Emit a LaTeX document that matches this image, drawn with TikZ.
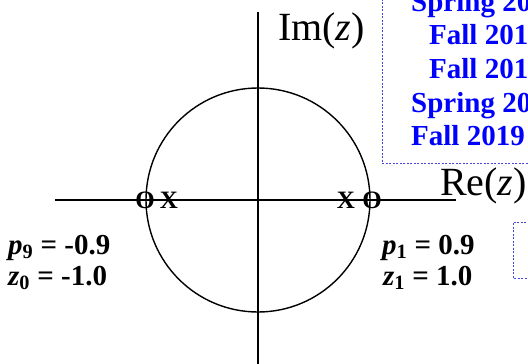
\documentclass[tikz,border=0pt]{standalone}
\usepackage{fontspec}
\setmainfont{Liberation Serif}
\definecolor{slideblue}{RGB}{0,0,255}
\definecolor{boxblue}{RGB}{70,70,225}
\tikzset{
  axisline/.style={line width=1.6pt, black},
  unitcircle/.style={line width=1.4pt, black},
  marker/.style={inner sep=0pt, font=\fontsize{25}{30}\selectfont\bfseries},
  axislabel/.style={inner sep=0pt, anchor=base west, font=\fontsize{40}{48}\selectfont},
  rootlabel/.style={inner sep=0pt, anchor=base west, font=\fontsize{29}{34}\selectfont\bfseries},
  termlabel/.style={inner sep=0pt, anchor=base west, text=slideblue, font=\fontsize{29}{34}\selectfont\bfseries},
  infobox/.style={boxblue, line width=0.8pt, dash pattern=on 2pt off 1.5pt}
}
\begin{document}
\begin{tikzpicture}[x=1pt, y=-1pt]
		\clip (0,0) rectangle (528,364);
		
		% axes
		\coordinate (origin) at (258,200);
		\coordinate (re start) at (55,200);
		\coordinate (re end) at (456,200);
		\coordinate (im start) at (258,364);
		\coordinate (im end) at (258,12);
		\draw[axisline] (re start) -- (re end);
		\draw[axisline] (im start) -- (im end);
		\node[axislabel] (imlabel) at (278,40) {Im(\textit{z})};
		\node[axislabel] (relabel) at (440,195) {Re(\textit{z})};
		
		% unit circle
		\draw[unitcircle] (origin) circle (112);
		
		% zeros and poles
		\node[marker] (zero left) at (145,200) {O};
		\node[marker] (pole left) at (169,200) {X};
		\node[marker] (pole right) at (346,200) {X};
		\node[marker] (zero right) at (372,200) {O};
		
		% values
		\node[rootlabel] (p nine) at (8,254) {\textit{p}\textsubscript{9} = -0.9};
		\node[rootlabel] (z zero) at (8,285) {\textit{z}\textsubscript{0} = -1.0};
		\node[rootlabel] (p one) at (382,254) {\textit{p}\textsubscript{1} = 0.9};
		\node[rootlabel] (z one) at (383,285) {\textit{z}\textsubscript{1} = 1.0};
		
		% term list
		\draw[infobox] (382,-5) |- (540,163);
		\foreach \name/\xpos/\ypos/\term in {t1/411/11.5/Spring 20, t2/429/45/Fall 201, t3/429/78.5/Fall 201, t4/411/112/Spring 20, t5/411/145.5/Fall 2019}
		\node[termlabel] (\name) at (\xpos,\ypos) {\term};
		
		% second box
		\draw[infobox] (540,222) -| (513,278) -- (540,278);
	\end{tikzpicture}
\end{document}
